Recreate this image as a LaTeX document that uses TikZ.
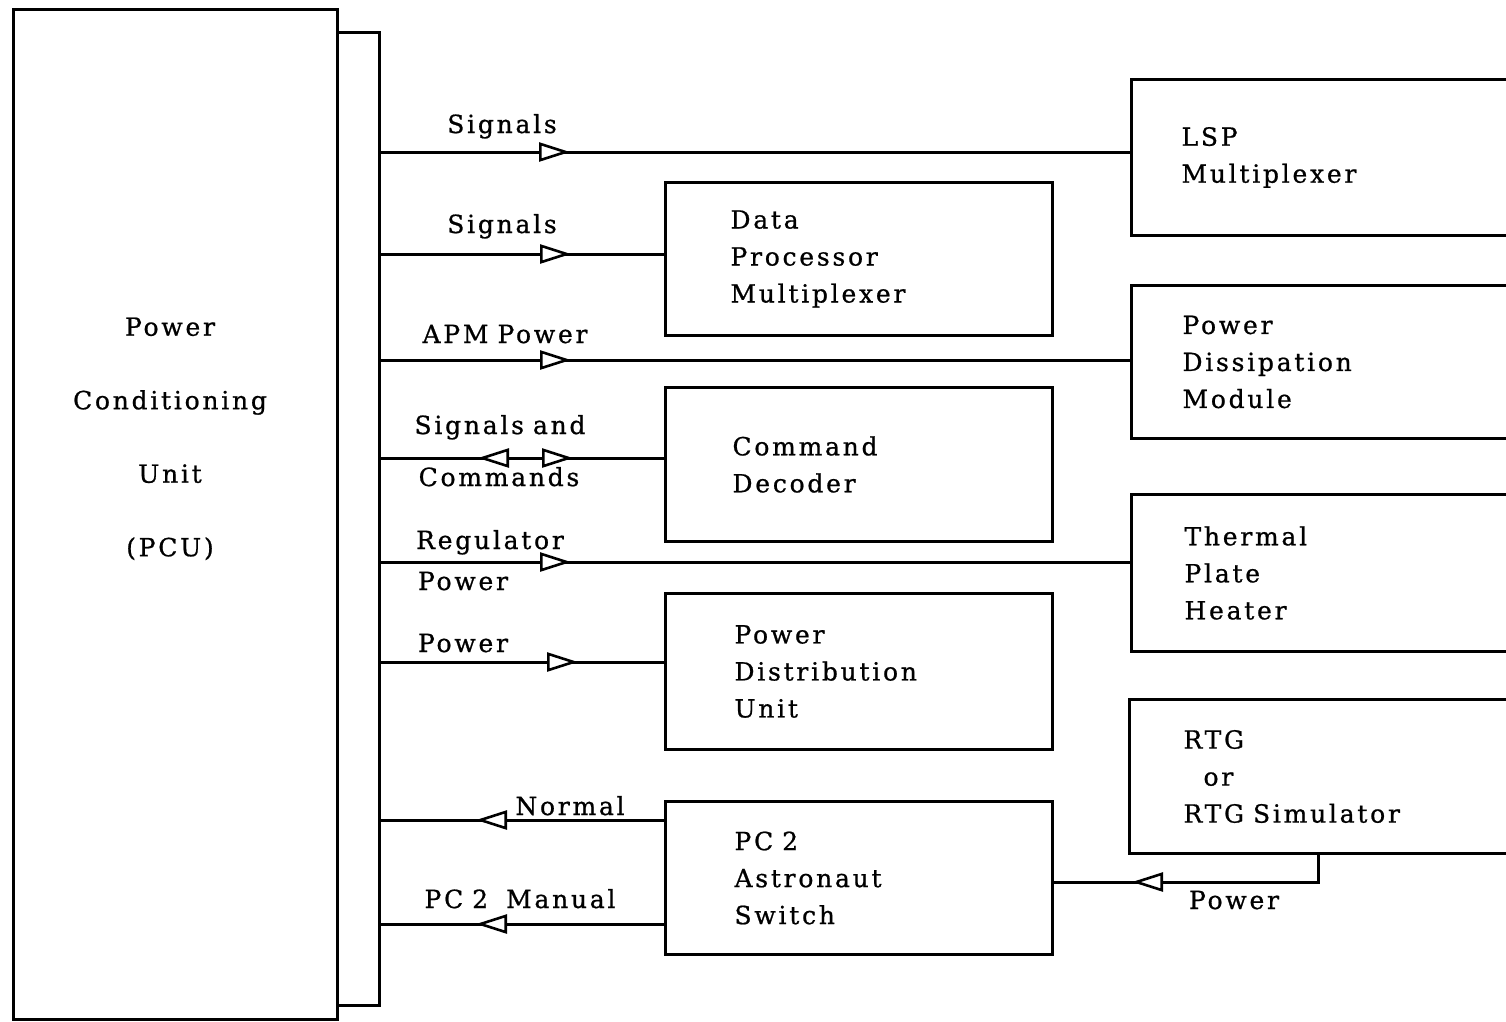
\documentclass[tikz,border=0pt]{standalone}
\usepackage{fontspec}
\setmainfont{DejaVu Serif}[LetterSpace=11, FakeBold=0.8]
\usetikzlibrary{arrows.meta,decorations.markings}

\tikzset{
  openhead/.tip={Triangle[fill=white, length=31pt, width=19pt, line width=2.6pt]},
  unit/.style={draw, rectangle, anchor=north west, align=left, inner ysep=0pt},
  lbl/.style={anchor=base, inner sep=0pt},
  flow/.style={postaction={decorate, decoration={markings,
      mark=at position #1 with {\arrow{openhead}}}}},
  backflow/.style={postaction={decorate, decoration={markings,
      mark=at position #1 with {\arrowreversed{openhead}}}}},
}
\newcommand{\wsp}{\hspace{9pt}}

\begin{document}
\begin{tikzpicture}[x=1pt, y=-1pt, line width=3pt, font=\fontsize{25}{37}\selectfont]
  \useasboundingbox (0,0) rectangle (1506,1021);
  \clip (0,0) rectangle (1506,1021);

  % PCU and its output bus
  \node[unit, minimum width=324pt, minimum height=1010pt] (pcu) at (12,8) {};
  \node[anchor=north, align=center, inner sep=0pt, font=\fontsize{25}{73.5}\selectfont]
    (pcuname) at (170,316) {Power\\Conditioning\\Unit\\(PCU)};
  \node[unit, minimum width=42pt, minimum height=973pt] (bus) at (336,31) {};

  % units on the right-hand column
  \node[unit, text width=300pt, inner xsep=50pt, minimum height=156pt] (lsp) at (1130,78) {LSP\\Multiplexer};
  \node[unit, text width=298pt, inner xsep=51pt, minimum height=153pt] (pdm) at (1130,284) {Power\\Dissipation\\Module};
  \node[unit, text width=294pt, inner xsep=53pt, minimum height=157pt] (tph) at (1130,493) {Thermal\\Plate\\Heater};
  \node[unit, text width=292pt, inner xsep=54pt, minimum height=154pt] (rtg) at (1128,698) {RTG\\\hspace*{20pt}or\\RTG\wsp Simulator};

  % units in the middle column
  \node[unit, text width=257pt, inner xsep=65pt, minimum height=153pt] (dpm) at (664,181) {Data\\Processor\\Multiplexer};
  \node[unit, text width=253pt, inner xsep=67pt, minimum height=154pt] (cmd) at (664,386) {Command\\Decoder};
  \node[unit, text width=249pt, inner xsep=69pt, minimum height=156pt] (pdu) at (664,592) {Power\\Distribution\\Unit};
  \node[unit, text width=249pt, inner xsep=69pt, minimum height=153pt] (pcs) at (664,800) {PC\wsp 2\\Astronaut\\Switch};

  % lines out of the bus
  \draw[flow=189pt] (bus.east |- 0,152) -- (lsp.west |- 0,152);
  \draw[flow=190pt] (bus.east |- 0,254) -- (dpm.west |- 0,254);
  \draw[flow=190pt] (bus.east |- 0,360) -- (pdm.west |- 0,360);
  \draw[flow=192pt, backflow=97pt] (bus.east |- 0,458) -- (cmd.west |- 0,458);
  \draw[flow=190pt] (bus.east |- 0,562) -- (tph.west |- 0,562);
  \draw[flow=197pt] (bus.east |- 0,662) -- (pdu.west |- 0,662);

  % lines back into the bus
  \draw[flow=188pt] (pcs.west |- 0,820) -- (bus.east |- 0,820);
  \draw[flow=188pt] (pcs.west |- 0,924) -- (bus.east |- 0,924);
  \coordinate (rtgtap) at (1318,882);
  \draw[flow=213pt] (rtg.south -| rtgtap) -- (rtgtap) -- (pcs.east |- rtgtap);

  % line labels
  \node[lbl] (sig1) at (502,133) {Signals};
  \node[lbl] (sig2) at (502,233) {Signals};
  \node[lbl] (apm) at (505,343) {APM\wsp Power};
  \node[lbl] (sigcmd) at (500,434) {Signals\wsp and};
  \node[lbl] (cmds) at (499,486) {Commands};
  \node[lbl] (reg) at (490,549) {Regulator};
  \node[lbl] (regpwr) at (463,590) {Power};
  \node[lbl] (pwr) at (463,652) {Power};
  \node[lbl] (normal) at (570,815) {Normal};
  \node[lbl] (manual) at (520,908) {PC\wsp 2\hspace{18pt}Manual};
  \node[lbl] (rtgpwr) at (1234,909) {Power};
\end{tikzpicture}
\end{document}
